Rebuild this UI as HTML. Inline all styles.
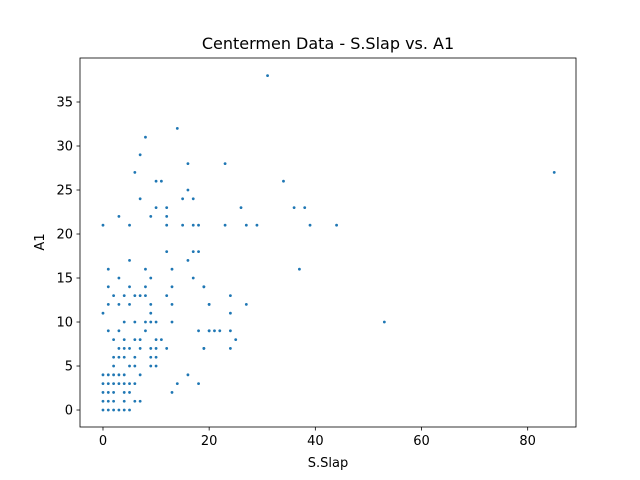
<!DOCTYPE html>
<html><head><meta charset="utf-8"><style>
body{margin:0;background:#fff}
svg{display:block;font-family:"DejaVu Sans","Liberation Sans",sans-serif}
</style></head><body>
<svg id="chart" width="640" height="480">
<rect width="640" height="480" fill="#fff"/>
<text x="328" y="49" text-anchor="middle" font-size="16">Centermen Data - S.Slap vs. A1</text>
<g id="marks"></g>
<rect x="80" y="58" width="496" height="369" fill="none" stroke="#000" stroke-width="0.8"/>
<g id="xt"></g>
<g id="yt"></g>
<text x="328" y="467" text-anchor="middle" font-size="13">S.Slap</text>
<text transform="translate(44,242) rotate(-90)" text-anchor="middle" font-size="13">A1</text>
</svg>
<script>
const xTicks=[0,20,40,60,80];
const yTicks=[0,5,10,15,20,25,30,35];
const xs=[14,8,7,16,6,10,11,16,7,15,17,10,12,3,9,12,0,5,12,15,17,18,
31,23,34,26,36,38,23,27,29,39,44,37,19,24,20,27,24,20,21,22,24,25,19,24,53,85,
12,17,18,5,16,1,8,13,3,9,17,1,5,8,13,19,2,4,6,7,8,12,1,3,5,9,13,20,0,9,
4,6,8,9,10,13,1,3,8,18,20,2,4,6,7,10,11,3,4,5,7,9,10,12,19,2,3,4,6,9,10,
2,5,6,9,10,0,1,2,3,4,7,16,0,1,2,3,4,5,6,14,18,0,1,2,4,5,13,0,1,2,4,6,7,0,1,2,3,4,5];
const ys=[32,31,29,28,27,26,26,25,24,24,24,23,23,22,22,22,21,21,21,21,21,21,
38,28,26,23,23,23,21,21,21,21,21,16,14,13,12,12,11,9,9,9,9,8,7,7,10,27,
18,18,18,17,17,16,16,16,15,15,15,14,14,14,14,14,13,13,13,13,13,13,12,12,12,12,12,12,11,11,
10,10,10,10,10,10,9,9,9,9,9,8,8,8,8,8,8,7,7,7,7,7,7,7,7,6,6,6,6,6,6,
5,5,5,5,5,4,4,4,4,4,4,4,3,3,3,3,3,3,3,3,3,2,2,2,2,2,2,1,1,1,1,1,1,0,0,0,0,0,0];
const L=80,R=576,T=58,B=427,xmin=-4.33,xmax=89.1,ymin=-1.93,ymax=40;
const sx=v=>L+(v-xmin)/(xmax-xmin)*(R-L);
const sy=v=>B-(v-ymin)/(ymax-ymin)*(B-T);
const NS='http://www.w3.org/2000/svg';
const g=document.getElementById('marks');
for(let i=0;i<xs.length;i++){
  const c=document.createElementNS(NS,'circle');
  c.setAttribute('cx',sx(xs[i]));c.setAttribute('cy',sy(ys[i]));
  c.setAttribute('r',1.4);c.setAttribute('fill','#1f77b4');
  
  
  g.appendChild(c);
}
const xt=document.getElementById('xt');
xTicks.forEach(v=>{
  const x=sx(v);
  const l=document.createElementNS(NS,'line');
  l.setAttribute('x1',x);l.setAttribute('x2',x);l.setAttribute('y1',B);l.setAttribute('y2',B+3.5);
  l.setAttribute('stroke','#000');l.setAttribute('stroke-width','0.8');
  
  
  xt.appendChild(l);
  const t=document.createElementNS(NS,'text');
  t.setAttribute('x',x);t.setAttribute('y',B+18);t.setAttribute('text-anchor','middle');t.setAttribute('font-size','13');
  t.textContent=v;
  
  
  xt.appendChild(t);
});
const yt=document.getElementById('yt');
yTicks.forEach(v=>{
  const y=sy(v);
  const l=document.createElementNS(NS,'line');
  l.setAttribute('x1',L-3.5);l.setAttribute('x2',L);l.setAttribute('y1',y);l.setAttribute('y2',y);
  l.setAttribute('stroke','#000');l.setAttribute('stroke-width','0.8');
  
  
  yt.appendChild(l);
  const t=document.createElementNS(NS,'text');
  t.setAttribute('x',L-7);t.setAttribute('y',y+4.5);t.setAttribute('text-anchor','end');t.setAttribute('font-size','13');
  t.textContent=v;
  
  
  yt.appendChild(t);
});
</script>
</body></html>
